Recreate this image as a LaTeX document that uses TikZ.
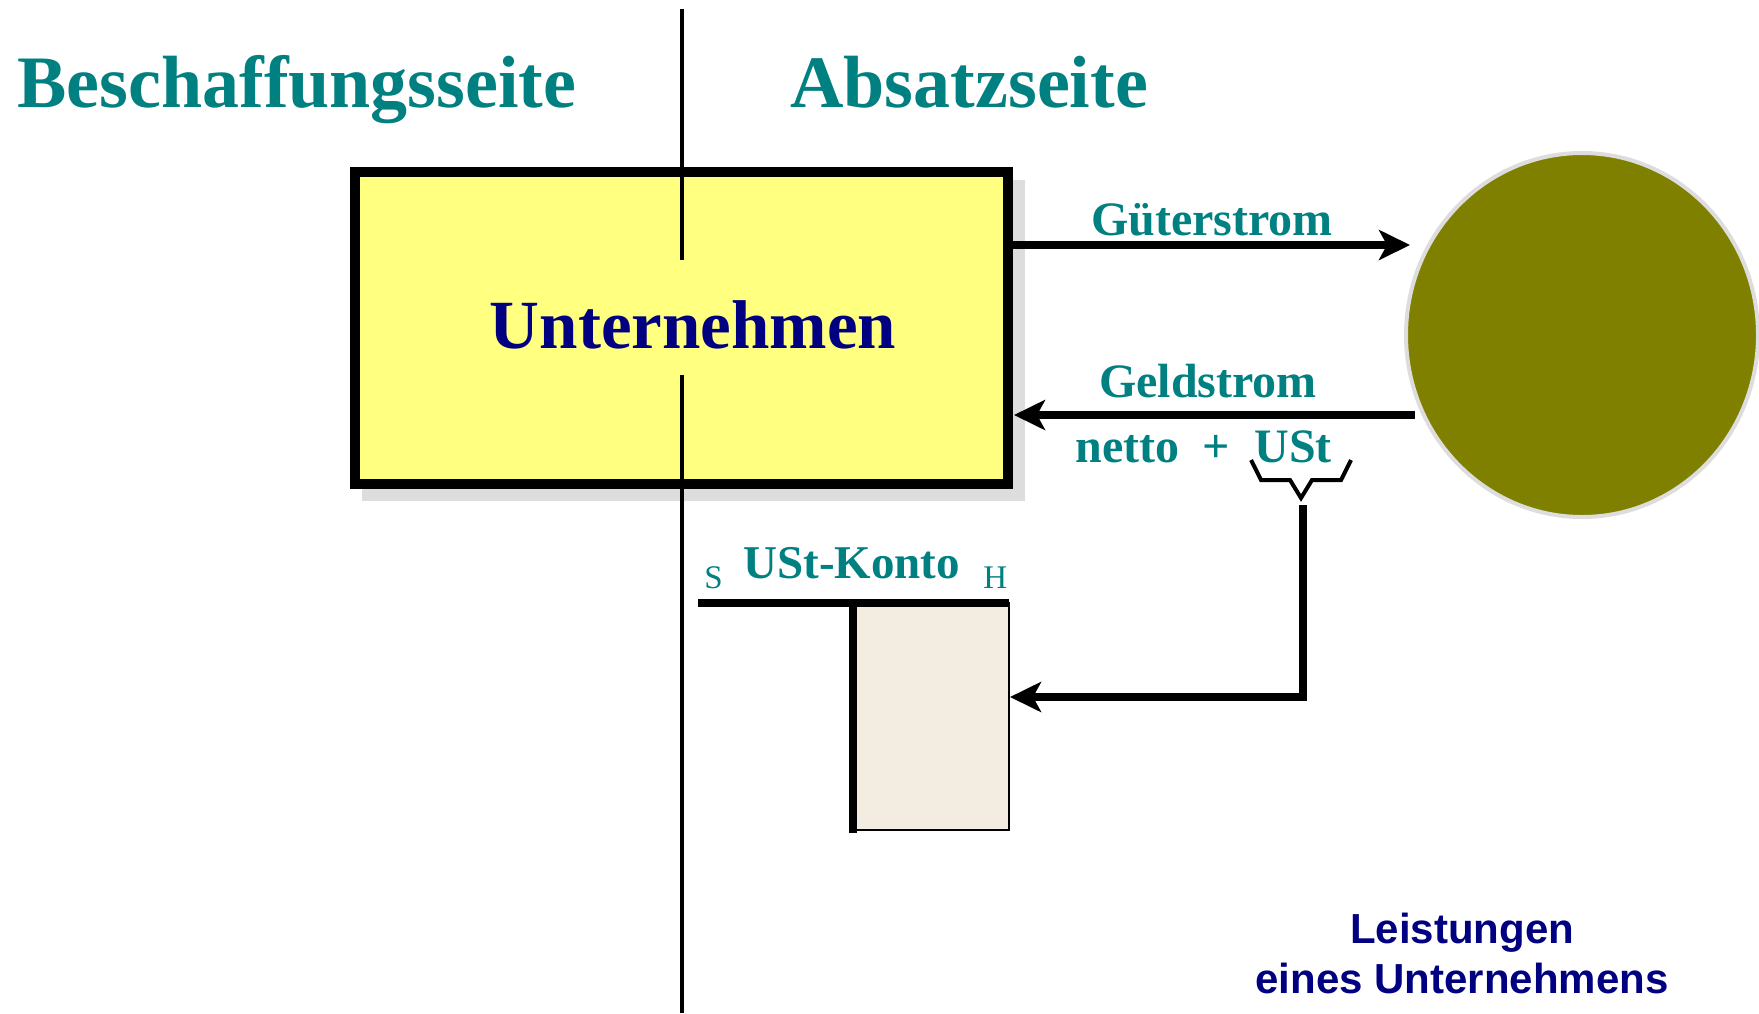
\documentclass[tikz,border=0pt]{standalone}
\usepackage{fontspec}
\setmainfont{Liberation Serif}
\newfontfamily\sansfam{Liberation Sans}
\usetikzlibrary{arrows.meta,shapes.geometric}
\definecolor{tealc}{RGB}{0,128,128}
\definecolor{navyc}{RGB}{0,0,128}
\definecolor{yelc}{RGB}{255,255,128}
\definecolor{olivec}{RGB}{128,128,0}
\definecolor{beigec}{RGB}{243,237,225}
\definecolor{shadowc}{RGB}{221,221,221}
\tikzset{
  head/.style={text=tealc,font=\bfseries\fontsize{37}{40}\selectfont,inner sep=0pt},
  flowlbl/.style={text=tealc,font=\bfseries\fontsize{24}{28}\selectfont,inner sep=0pt},
  sh/.style={text=tealc,font=\fontsize{16.5}{19}\selectfont,inner sep=0pt},
  flow/.style={line width=4pt,-{Stealth[length=15.5pt,width=15pt,inset=4pt]}},
  divider/.style={line width=2pt},
}
\begin{document}
\begin{tikzpicture}[x=0.5pt,y=-0.5pt]
\useasboundingbox (0,0) rectangle (1759,1013);
% headings
\node[head,anchor=base west] (beschaffung) at (17,107) {Beschaffungsseite};
\node[head,anchor=base west] (absatz) at (790,107) {Absatzseite};
% shadow and company box
\fill[shadowc] (362,180) rectangle (1025,501);
\node[draw,line width=5pt,fill=yelc,rectangle,inner sep=0pt,minimum width=326.5pt,minimum height=156pt] (box) at (681.5,328) {};
\node[text=navyc,font=\bfseries\fontsize{34.5}{40}\selectfont,inner sep=0pt,anchor=base] (unt) at (693,348) {Unternehmen};
% divider
\coordinate (dtop) at (682,9);
\coordinate (dgap1) at (682,260);
\coordinate (dgap2) at (682,375);
\coordinate (dbot) at (682,1013);
\draw[divider] (dtop) -- (dgap1);
\draw[divider] (dgap2) -- (dbot);
% market ellipse
\node[ellipse,draw=shadowc,line width=2pt,fill=olivec,minimum width=176pt,minimum height=182pt,inner sep=0pt] (mkt) at (1582,335) {};
% flows
\coordinate (g1) at (1013,245);
\coordinate (g2) at (1410,245);
\draw[flow] (g1) -- (g2);
\node[flowlbl,anchor=base] (gueter) at (1212,235) {Güterstrom};
\coordinate (m1) at (1415,415);
\coordinate (m2) at (1014,415);
\draw[flow] (m1) -- (m2);
\node[flowlbl,anchor=base] (geld) at (1208,397) {Geldstrom};
\node[flowlbl,anchor=base west] (netto) at (1075,462) {netto};
\node[flowlbl,anchor=base] (plus) at (1216,462) {+};
\node[flowlbl,anchor=base west] (ust) at (1254,462) {USt};
% brace
\draw[line width=2pt,miter limit=10] (1251,460) -- (1261,480) -- (1290,480) -- (1301,498) -- (1312,480) -- (1341,480) -- (1351,460);
% UST account
\node[draw,line width=1pt,fill=beigec,rectangle,inner sep=0pt,minimum width=78pt,minimum height=113.5pt] (konto) at (931,716.5) {};
\coordinate (tl) at (698,603);
\coordinate (tr) at (1009,603);
\coordinate (vb) at (853,833);
\coordinate (vt) at (853,601);
\draw[line width=4pt] (tl) -- (tr);
\draw[line width=4pt] (vt) -- (vb);
\node[flowlbl,font=\bfseries\fontsize{23.5}{27}\selectfont,anchor=base west] (kontolbl) at (743,578) {USt-Konto};
\node[sh,anchor=base west] (soll) at (704,588) {S};
\node[sh,anchor=base west] (haben) at (983,588) {H};
% connector from brace to account
\coordinate (b1) at (1303,505);
\coordinate (b2) at (1303,697);
\coordinate (b3) at (1010,697);
\draw[flow] (b1) -- (b2) -- (b3);
% caption
\node[text=navyc,font=\sansfam\bfseries\fontsize{21}{25}\selectfont,align=center,anchor=base,inner sep=0pt] (caption) at (1462,993) {Leistungen\\eines Unternehmens};
\end{tikzpicture}
\end{document}
